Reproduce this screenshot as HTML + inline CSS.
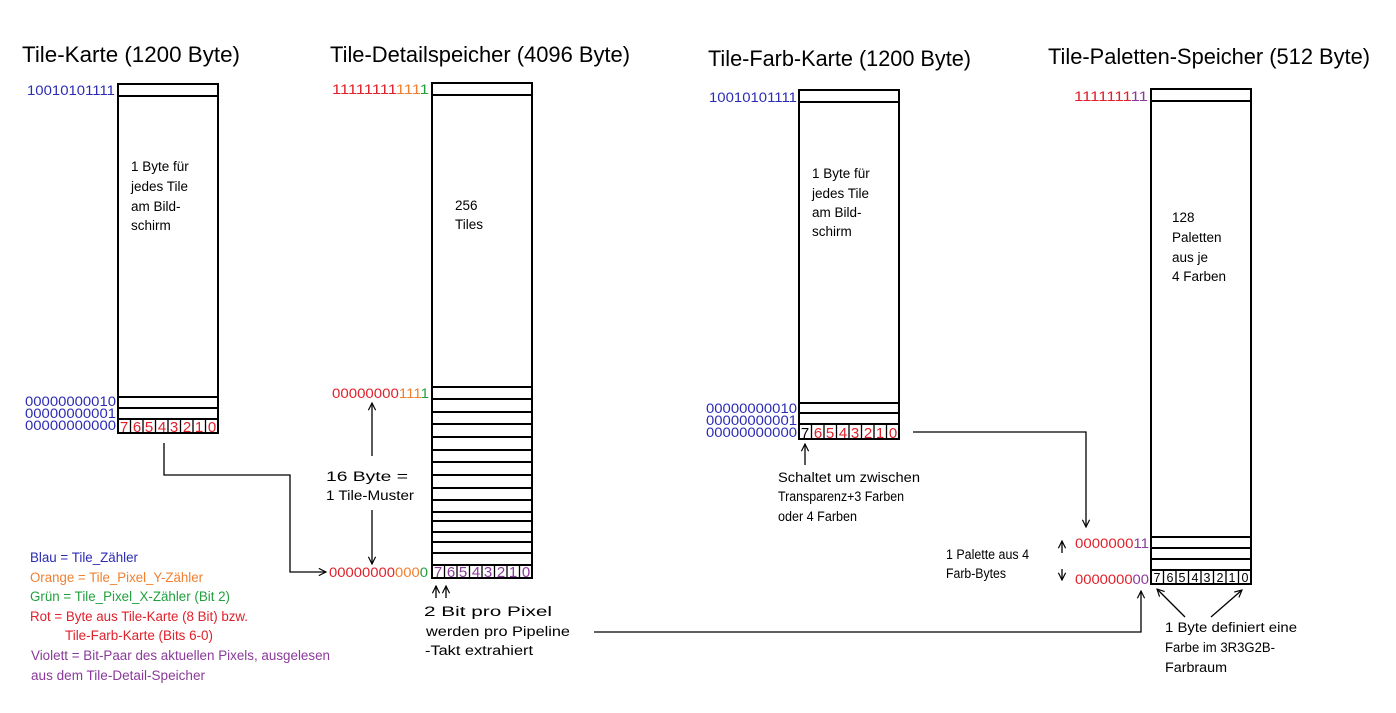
<!DOCTYPE html>
<html><head><meta charset="utf-8"><style>
html,body{margin:0;padding:0;background:#fff}
svg{display:block}
text{font-family:"Liberation Sans",sans-serif}
</style></head><body>
<svg width="1396" height="713" viewBox="0 0 1396 713" xmlns="http://www.w3.org/2000/svg">
<defs>
<marker id="a" viewBox="0 0 10 10" refX="9" refY="5" markerWidth="9" markerHeight="9" orient="auto" markerUnits="userSpaceOnUse"><path d="M1,1 L9,5 L1,9" fill="none" stroke="#000" stroke-width="1.3"/></marker>
</defs>
<g fill="#000" font-size="22">
<text x="22" y="62" textLength="218" lengthAdjust="spacingAndGlyphs">Tile-Karte (1200 Byte)</text>
<text x="330" y="62" textLength="300" lengthAdjust="spacingAndGlyphs">Tile-Detailspeicher (4096 Byte)</text>
<text x="708" y="66" textLength="263" lengthAdjust="spacingAndGlyphs">Tile-Farb-Karte (1200 Byte)</text>
<text x="1048" y="64" textLength="322" lengthAdjust="spacingAndGlyphs">Tile-Paletten-Speicher (512 Byte)</text>
</g>
<g fill="none" stroke="#000" stroke-width="2">
<rect x="118" y="84" width="100" height="349"/>
<line x1="118" y1="96" x2="218" y2="96"/>
<line x1="118" y1="397" x2="218" y2="397"/>
<line x1="118" y1="408" x2="218" y2="408"/>
<line x1="118" y1="419" x2="218" y2="419"/>
<rect x="432" y="83" width="100" height="495"/>
<line x1="432" y1="95" x2="532" y2="95"/>
<path d="M432 387H532M432 399H532M432 412H532M432 424H532M432 437H532M432 450H532M432 462H532M432 475H532M432 488H532M432 500H532M432 512H532M432 521H532M432 532H532M432 542H532M432 553H532M432 565H532"/>
<rect x="799" y="90" width="100" height="349"/>
<line x1="799" y1="102" x2="899" y2="102"/>
<line x1="799" y1="403" x2="899" y2="403"/>
<line x1="799" y1="413" x2="899" y2="413"/>
<line x1="799" y1="424" x2="899" y2="424"/>
<rect x="1151" y="89" width="100" height="495"/>
<line x1="1151" y1="101" x2="1251" y2="101"/>
<line x1="1151" y1="537" x2="1251" y2="537"/>
<line x1="1151" y1="548" x2="1251" y2="548"/>
<line x1="1151" y1="559" x2="1251" y2="559"/>
<line x1="1151" y1="570" x2="1251" y2="570"/>
</g>
<g fill="none" stroke="#000" stroke-width="1.3">
<path d="M130.5 419V433M143 419V433M155.5 419V433M168 419V433M180.5 419V433M193 419V433M205.5 419V433"/>
<path d="M444.5 565V578M457 565V578M469.5 565V578M482 565V578M494.5 565V578M507 565V578M519.5 565V578"/>
<path d="M811.5 424V439M824 424V439M836.5 424V439M849 424V439M861.5 424V439M874 424V439M886.5 424V439"/>
<path d="M1163.5 570V584M1176 570V584M1188.5 570V584M1201 570V584M1213.5 570V584M1226 570V584M1238.5 570V584"/>
<path d="M164 443V475H290V572H326" marker-end="url(#a)"/>
<path d="M913 432H1086V527" marker-end="url(#a)"/>
<path d="M594 632H1141V591" marker-end="url(#a)"/>
<path d="M805 465V444" marker-end="url(#a)"/>
<path d="M372 456V403" marker-end="url(#a)"/>
<path d="M372 510V564" marker-end="url(#a)"/>
<path d="M436 598V586" marker-end="url(#a)"/>
<path d="M446 598V586" marker-end="url(#a)"/>
<path d="M1062 553V541" marker-end="url(#a)"/>
<path d="M1062 569V580" marker-end="url(#a)"/>
<path d="M1185 617L1157 589" marker-end="url(#a)"/>
<path d="M1211 617L1242 590" marker-end="url(#a)"/>
</g>
<g font-size="13.5" fill="#2b2bb5">
<text x="27" y="95" textLength="88" lengthAdjust="spacingAndGlyphs">10010101111</text>
<text x="25" y="406" textLength="91" lengthAdjust="spacingAndGlyphs">00000000010</text>
<text x="25" y="418" textLength="91" lengthAdjust="spacingAndGlyphs">00000000001</text>
<text x="25" y="430" textLength="91" lengthAdjust="spacingAndGlyphs">00000000000</text>
<text x="709" y="102" textLength="88" lengthAdjust="spacingAndGlyphs">10010101111</text>
<text x="706" y="413" textLength="91" lengthAdjust="spacingAndGlyphs">00000000010</text>
<text x="706" y="425" textLength="91" lengthAdjust="spacingAndGlyphs">00000000001</text>
<text x="706" y="437" textLength="91" lengthAdjust="spacingAndGlyphs">00000000000</text>
</g>
<g font-size="13.5">
<text x="332" y="94" textLength="97" lengthAdjust="spacingAndGlyphs"><tspan fill="#e0202a">11111111</tspan><tspan fill="#f08030">111</tspan><tspan fill="#22a040">1</tspan></text>
<text x="332" y="398" textLength="97" lengthAdjust="spacingAndGlyphs"><tspan fill="#e0202a">00000000</tspan><tspan fill="#f08030">111</tspan><tspan fill="#22a040">1</tspan></text>
<text x="329" y="577" textLength="99" lengthAdjust="spacingAndGlyphs"><tspan fill="#e0202a">00000000</tspan><tspan fill="#f08030">000</tspan><tspan fill="#22a040">0</tspan></text>
<text x="1074" y="101" textLength="74" lengthAdjust="spacingAndGlyphs"><tspan fill="#e0202a">1111111</tspan><tspan fill="#8a3a9a">11</tspan></text>
<text x="1075" y="548" textLength="74" lengthAdjust="spacingAndGlyphs"><tspan fill="#e0202a">0000000</tspan><tspan fill="#8a3a9a">11</tspan></text>
<text x="1075" y="584" textLength="74" lengthAdjust="spacingAndGlyphs"><tspan fill="#e0202a">0000000</tspan><tspan fill="#8a3a9a">00</tspan></text>
</g>
<g font-size="15" text-anchor="middle">
<g fill="#e0202a">
<text x="124" y="432">7</text><text x="137" y="432">6</text><text x="149" y="432">5</text><text x="162" y="432">4</text><text x="174" y="432">3</text><text x="187" y="432">2</text><text x="199" y="432">1</text><text x="212" y="432">0</text>
</g>
<g fill="#8a3a9a">
<text x="438" y="577">7</text><text x="451" y="577">6</text><text x="463" y="577">5</text><text x="476" y="577">4</text><text x="488" y="577">3</text><text x="501" y="577">2</text><text x="513" y="577">1</text><text x="526" y="577">0</text>
</g>
<text x="805" y="438" fill="#000">7</text>
<g fill="#e0202a">
<text x="818" y="438">6</text><text x="830" y="438">5</text><text x="843" y="438">4</text><text x="855" y="438">3</text><text x="868" y="438">2</text><text x="880" y="438">1</text><text x="893" y="438">0</text>
</g>
<g fill="#000" font-size="12.5">
<text x="1157" y="582">7</text><text x="1170" y="582">6</text><text x="1182" y="582">5</text><text x="1195" y="582">4</text><text x="1207" y="582">3</text><text x="1220" y="582">2</text><text x="1232" y="582">1</text><text x="1245" y="582">0</text>
</g>
</g>
<g font-size="13.5" fill="#000">
<text x="131" y="171">1 Byte für</text>
<text x="131" y="191">jedes Tile</text>
<text x="131" y="211">am Bild-</text>
<text x="131" y="230">schirm</text>
<text x="455" y="210">256</text>
<text x="455" y="229">Tiles</text>
<text x="812" y="178">1 Byte für</text>
<text x="812" y="198">jedes Tile</text>
<text x="812" y="217">am Bild-</text>
<text x="812" y="236">schirm</text>
<text x="1172" y="222">128</text>
<text x="1172" y="242">Paletten</text>
<text x="1172" y="262">aus je</text>
<text x="1172" y="281">4 Farben</text>
<text x="326" y="481" textLength="82" lengthAdjust="spacingAndGlyphs">16 Byte =</text>
<text x="326" y="500" textLength="88" lengthAdjust="spacingAndGlyphs">1 Tile-Muster</text>
<text x="424" y="616" textLength="128" lengthAdjust="spacingAndGlyphs">2 Bit pro Pixel</text>
<text x="426" y="636" textLength="144" lengthAdjust="spacingAndGlyphs">werden pro Pipeline</text>
<text x="425" y="655" textLength="108" lengthAdjust="spacingAndGlyphs">-Takt extrahiert</text>
<text x="778" y="482" textLength="142" lengthAdjust="spacingAndGlyphs">Schaltet um zwischen</text>
<text x="778" y="501" textLength="126" lengthAdjust="spacingAndGlyphs">Transparenz+3 Farben</text>
<text x="778" y="521" textLength="79" lengthAdjust="spacingAndGlyphs">oder 4 Farben</text>
<text x="946" y="559" textLength="83" lengthAdjust="spacingAndGlyphs">1 Palette aus 4</text>
<text x="946" y="578" textLength="60" lengthAdjust="spacingAndGlyphs">Farb-Bytes</text>
<text x="1165" y="632" textLength="132" lengthAdjust="spacingAndGlyphs">1 Byte definiert eine</text>
<text x="1165" y="652" textLength="110" lengthAdjust="spacingAndGlyphs">Farbe im 3R3G2B-</text>
<text x="1165" y="672" textLength="62" lengthAdjust="spacingAndGlyphs">Farbraum</text>
</g>
<g font-size="13.5">
<text x="30" y="562" fill="#2b2bb5" textLength="108" lengthAdjust="spacingAndGlyphs">Blau = Tile_Zähler</text>
<text x="30" y="582" fill="#f08030" textLength="173" lengthAdjust="spacingAndGlyphs">Orange = Tile_Pixel_Y-Zähler</text>
<text x="30" y="601" fill="#22a040" textLength="200" lengthAdjust="spacingAndGlyphs">Grün = Tile_Pixel_X-Zähler  (Bit 2)</text>
<text x="30" y="621" fill="#e0202a" textLength="218" lengthAdjust="spacingAndGlyphs">Rot = Byte aus Tile-Karte (8 Bit) bzw.</text>
<text x="65" y="640" fill="#e0202a" textLength="148" lengthAdjust="spacingAndGlyphs">Tile-Farb-Karte (Bits 6-0)</text>
<text x="31" y="660" fill="#8a3a9a" textLength="299" lengthAdjust="spacingAndGlyphs">Violett = Bit-Paar des aktuellen Pixels, ausgelesen</text>
<text x="31" y="680" fill="#8a3a9a" textLength="174" lengthAdjust="spacingAndGlyphs">aus dem Tile-Detail-Speicher</text>
</g>
</svg>
</body></html>
